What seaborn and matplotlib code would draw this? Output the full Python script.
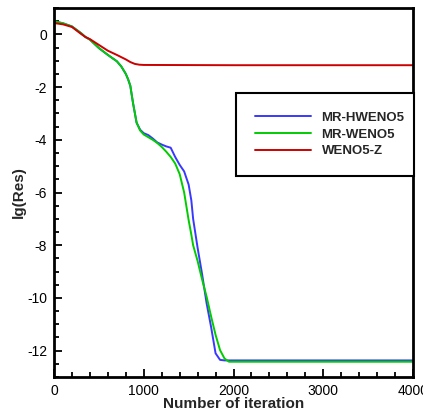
# coding: utf-8
"""
Convergence history: lg(Res) vs iteration number
"""

import pandas as pd
import seaborn as sns
import matplotlib.pyplot as plt
import matplotlib.ticker as tck

sns.set_theme(style="white")
plt.rcParams['font.family'] = ['Liberation Sans', 'DejaVu Sans']
plt.rcParams['axes.unicode_minus'] = False

# iteration numbers / residuals
iter_mr = [0, 100, 200, 300, 350, 400, 500, 600, 700, 750, 800, 825, 850, 880,
           920, 960, 1000, 1050, 1100, 1150, 1200, 1250, 1300, 1350, 1400, 1450,
           1500, 1530, 1550, 1600, 1650, 1700, 1750, 1800, 1850, 1900, 1950,
           2000, 2500, 3000, 3500, 4000]
res_hweno = [0.5, 0.42, 0.3, 0.05, -0.1, -0.2, -0.52, -0.78, -1.02, -1.22, -1.5,
             -1.7, -1.95, -2.6, -3.35, -3.62, -3.75, -3.82, -3.95, -4.1, -4.18,
             -4.25, -4.3, -4.65, -4.95, -5.2, -5.7, -6.3, -7.0, -8.1, -9.1,
             -10.2, -11.1, -12.1, -12.35, -12.37, -12.37, -12.37, -12.37, -12.37,
             -12.37, -12.37]
res_weno = [0.5, 0.42, 0.3, 0.05, -0.1, -0.2, -0.52, -0.78, -1.02, -1.22, -1.5,
            -1.7, -1.95, -2.6, -3.35, -3.65, -3.8, -3.9, -4.0, -4.12, -4.27,
            -4.45, -4.65, -4.9, -5.3, -6.0, -7.05, -7.6, -8.0, -8.6, -9.3,
            -9.95, -10.7, -11.4, -11.98, -12.3, -12.42, -12.42, -12.42, -12.42,
            -12.42, -12.42]

iter_z = [0, 100, 200, 300, 350, 400, 500, 600, 700, 800, 850, 900, 950, 1000,
          2000, 3000, 4000]
res_z = [0.43, 0.38, 0.28, 0.02, -0.1, -0.18, -0.4, -0.62, -0.78, -0.95, -1.05,
         -1.12, -1.15, -1.16, -1.17, -1.17, -1.17]

series = [
    ('MR-HWENO5', iter_mr, res_hweno, '#3838ff'),
    ('MR-WENO5', iter_mr, res_weno, '#00cc00'),
    ('WENO5-Z', iter_z, res_z, '#cc0000'),
]

fig = plt.figure(figsize=(4.23, 4.11), dpi=100)
ax = fig.add_axes([0.1277, 0.0827, 0.8487, 0.8978])

for nom, x, y, couleur in series:
    df = pd.DataFrame({'iter': x, 'res': y})
    sns.lineplot(data=df, x='iter', y='res', ax=ax, color=couleur,
                 linewidth=1.4, label=nom)

ax.set_xlim(0, 4000)
ax.set_ylim(-13, 1)
ax.xaxis.set_major_locator(tck.MultipleLocator(1000))
ax.xaxis.set_minor_locator(tck.MultipleLocator(200))
ax.yaxis.set_major_locator(tck.MultipleLocator(2))
ax.yaxis.set_minor_locator(tck.MultipleLocator(0.5))
ax.tick_params(which='both', direction='in', top=False, right=False,
               bottom=True, left=True, colors='black', labelsize=10, width=1.3)
ax.tick_params(which='major', length=6, pad=5)
ax.tick_params(which='minor', length=3.5)

for sp in ax.spines.values():
    sp.set_color('black')
    sp.set_linewidth(2)

ax.set_xlabel('Number of iteration', fontsize=11, fontweight='bold', labelpad=-1)
ax.set_ylabel('lg(Res)', fontsize=11, fontweight='bold', labelpad=0.5)

leg = ax.legend(loc='upper left', bbox_to_anchor=(0.557, 0.5645, 0.4207, 0.21),
                bbox_transform=fig.transFigure, mode='expand',
                prop={'weight': 'bold', 'size': 9.5}, frameon=True,
                fancybox=False, framealpha=1, edgecolor='black',
                borderpad=1.45, labelspacing=0.33, handlelength=4.3,
                handletextpad=0.76, borderaxespad=0)
leg.get_frame().set_linewidth(1.5)

plt.savefig('out.png', dpi=100)
